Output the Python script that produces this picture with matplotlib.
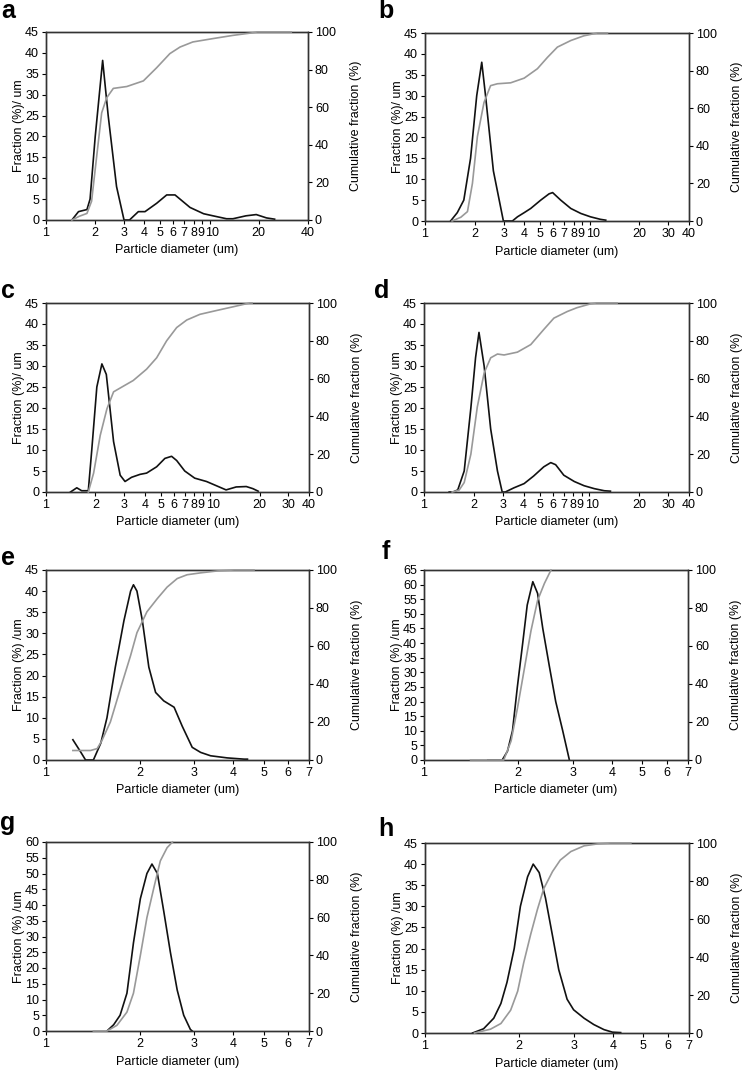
import matplotlib
matplotlib.use("Agg")
import matplotlib.pyplot as plt
import matplotlib.transforms as mtransforms
from matplotlib.ticker import NullLocator

plt.rcParams['font.family'] = ['Liberation Sans', 'DejaVu Sans']
plt.rcParams['font.size'] = 9

# ---------------- data ----------------
# a
a_x = [1.44, 1.58, 1.78, 1.86, 2.0, 2.22, 2.4, 2.7, 3.0, 3.24, 3.67, 4.03, 4.75, 5.47, 6.15, 7.6, 9.2, 10.5, 12.7, 13.9, 16.7, 19.3, 22.3, 25.0]
a_frac = [0, 2, 2.5, 5, 20, 38.2, 25, 8, 0, 0, 2, 2, 4, 6, 6, 3, 1.5, 1, 0.3, 0.3, 1, 1.3, 0.5, 0.2]
a_cx = [1.44, 1.6, 1.78, 1.9, 2.03, 2.19, 2.35, 2.58, 3.12, 3.94, 4.75, 5.72, 6.6, 7.9, 10.5, 13.9, 18.4, 19.5, 31.6]
a_cum = [0, 2, 3.5, 10, 32, 57, 65, 70, 71, 74, 81, 88.5, 92, 94.7, 96.5, 98.2, 99.6, 100, 100]

# b
b_x = [1.43, 1.57, 1.72, 1.89, 2.06, 2.21, 2.33, 2.6, 2.99, 3.39, 3.64, 4.0, 4.38, 5.04, 5.66, 5.95, 6.66, 7.67, 8.83, 10.1, 11.6, 12.5]
b_frac = [0, 2, 5, 15, 30, 38, 30, 12, 0, 0, 1, 2, 3, 5, 6.5, 6.8, 5, 3, 1.8, 1, 0.4, 0.2]
b_cx = [1.46, 1.65, 1.81, 1.94, 2.08, 2.28, 2.5, 2.75, 3.31, 4.0, 4.81, 5.53, 6.36, 7.67, 9.2, 11.1, 12.8]
b_cum = [0, 2, 5, 20, 45, 63, 72, 73, 73.5, 76, 81, 87, 92.5, 96, 98.5, 100, 100]

# c
c_x = [1.41, 1.54, 1.65, 1.81, 1.9, 2.04, 2.19, 2.33, 2.58, 2.83, 3.03, 3.32, 3.74, 4.1, 4.72, 5.3, 5.82, 6.25, 7.0, 8.05, 9.5, 10.9, 12.5, 14.4, 16.6, 18.2, 19.6]
c_frac = [0, 1, 0.3, 0.3, 10, 25, 30.5, 28, 12, 4, 2.5, 3.5, 4.2, 4.5, 6, 8, 8.5, 7.5, 5, 3.3, 2.5, 1.5, 0.5, 1.2, 1.3, 0.8, 0.2]
c_cx = [1.81, 1.95, 2.14, 2.35, 2.58, 2.96, 3.4, 4.1, 4.72, 5.43, 6.25, 7.2, 8.66, 10.9, 13.8, 17.4, 18.0]
c_cum = [0, 10, 30, 44, 53, 56, 59, 65, 71, 80, 87, 91, 94, 96, 98, 100, 100]

# d
d_x = [1.42, 1.5, 1.6, 1.75, 1.92, 2.05, 2.15, 2.31, 2.53, 2.78, 2.97, 3.1, 3.5, 4.03, 4.6, 5.3, 5.84, 6.25, 7.0, 8.1, 9.28, 10.7, 12.3, 13.4]
d_frac = [0, 0, 0.5, 5, 20, 32, 38, 30, 15, 5, 0, 0, 1, 2, 3.8, 6, 7, 6.5, 4, 2.5, 1.5, 0.8, 0.3, 0.2]
d_cx = [1.48, 1.63, 1.75, 1.92, 2.1, 2.31, 2.53, 2.78, 3.05, 3.67, 4.42, 5.3, 6.1, 7.35, 8.4, 10.1, 11.0, 14.7]
d_cum = [0, 1, 5, 20, 45, 63, 71, 73, 72.5, 74, 78, 86, 92, 95.5, 97.5, 99.5, 100, 100]

# e
e_x = [1.22, 1.29, 1.34, 1.42, 1.5, 1.57, 1.67, 1.78, 1.87, 1.91, 1.96, 2.04, 2.14, 2.25, 2.39, 2.58, 2.74, 2.95, 3.14, 3.38, 3.82, 4.33, 4.44]
e_frac = [4.8, 2, 0, 0, 4, 10, 22, 33, 40, 41.5, 40, 33, 22, 16, 14, 12.5, 8, 3, 1.8, 1, 0.5, 0.2, 0.2]
e_cx = [1.22, 1.39, 1.46, 1.51, 1.61, 1.73, 1.87, 1.96, 2.11, 2.28, 2.45, 2.64, 2.84, 3.14, 3.55, 4.02, 4.66]
e_cum = [5, 5, 6, 10, 20, 37, 55, 67, 78, 85, 91, 95.5, 97.5, 98.5, 99.5, 100, 100]

# f
f_x = [1.6, 1.78, 1.85, 1.92, 1.99, 2.07, 2.14, 2.23, 2.31, 2.4, 2.52, 2.64, 2.78, 2.92]
f_frac = [0, 0, 3, 10, 25, 40, 53, 61, 57, 45, 32, 20, 10, 0]
f_cx = [1.41, 1.8, 1.9, 1.99, 2.09, 2.2, 2.31, 2.43, 2.55]
f_cum = [0, 0, 10, 27, 47, 68, 84, 93, 100]

# g
g_x = [1.57, 1.65, 1.73, 1.82, 1.91, 2.01, 2.11, 2.19, 2.28, 2.39, 2.51, 2.64, 2.77, 2.91, 2.95]
g_frac = [0, 2, 5, 12, 28, 42, 50, 53, 50, 38, 25, 13, 5, 0.5, 0]
g_cx = [1.42, 1.57, 1.69, 1.82, 1.91, 2.01, 2.11, 2.23, 2.33, 2.45, 2.55]
g_cum = [0, 0, 3, 10, 20, 40, 60, 77, 90, 97, 100]

# h
h_x = [1.42, 1.54, 1.66, 1.75, 1.83, 1.93, 2.02, 2.13, 2.22, 2.32, 2.43, 2.56, 2.68, 2.85, 2.99, 3.23, 3.47, 3.74, 3.98, 4.23]
h_frac = [0, 1, 3.5, 7, 12, 20, 30, 37, 40, 38, 32, 23, 15, 8, 5.5, 3.5, 2, 0.8, 0.2, 0.1]
h_cx = [1.44, 1.62, 1.75, 1.88, 1.98, 2.07, 2.18, 2.29, 2.4, 2.56, 2.71, 2.93, 3.23, 3.56, 3.92, 4.56]
h_cum = [0, 2, 5, 12, 22, 37, 52, 65, 76, 85, 91, 95.5, 98.5, 99.5, 100, 100]

wide_ticks = [1, 2, 3, 4, 5, 6, 7, 8, 9, 10, 20, 30, 40]
wide_labels = ["1", "2", "3", "4", "5", "6", "7", "8", "9", "10", "20", "30", "40"]
wide_ticks_a = [1, 2, 3, 4, 5, 6, 7, 8, 9, 10, 20, 40]
wide_labels_a = ["1", "2", "3", "4", "5", "6", "7", "8", "9", "10", "20", "40"]
narrow_ticks = [1, 2, 3, 4, 5, 6, 7]
narrow_labels = ["1", "2", "3", "4", "5", "6", "7"]

# ---------------- figure ----------------
W, H = 742, 1078
fig = plt.figure(figsize=(W / 100, H / 100), dpi=100)


def box(l, r, t, b):
    return [l / W, 1 - b / H, (r - l) / W, (b - t) / H]


def panel(rect, letter, lpos, x, frac, cx, cum, xticks, xlabels, xmax, ymax, ylab):
    ax = fig.add_axes(rect)
    ax.set_xscale("log")
    ax.plot(x, frac, color="#111111", lw=1.2)
    ax.set_xlim(1, xmax)
    ax.set_ylim(0, ymax)
    ax.set_xticks(xticks)
    ax.set_xticklabels(xlabels)
    ax.xaxis.set_minor_locator(NullLocator())
    ax.set_yticks(range(0, ymax + 1, 5))
    ax.set_xlabel("Particle diameter (um)", labelpad=4)
    ax.set_ylabel(ylab, labelpad=0)
    ax.tick_params(length=3, width=0.8, pad=2)
    # the crowded "9" and "10" labels are nudged apart a little
    for lab, t in zip(ax.get_xticklabels(), xticks):
        dx = {9: -1.2, 10: 2.0}.get(t, 0)
        if dx:
            lab.set_transform(lab.get_transform() +
                              mtransforms.ScaledTranslation(dx / 72, 0, fig.dpi_scale_trans))

    ax2 = ax.twinx()
    ax2.plot(cx, cum, color="#999999", lw=1.2, zorder=3, clip_on=False)
    ax2.set_ylim(0, 100)
    ax2.set_yticks(range(0, 101, 20))
    ax2.set_ylabel("Cumulative fraction (%)", labelpad=10)
    ax2.tick_params(length=3, width=0.8, pad=2)
    for a in (ax, ax2):
        for s in a.spines.values():
            s.set_color("#333333")
            s.set_linewidth(1.0)

    fig.text(lpos[0] / W, 1 - lpos[1] / H, letter,
             fontsize=18, fontweight="bold", ha="center", va="center")
    return ax


lab1 = "Fraction (%)/ um"
lab2 = "Fraction (%) /um"

panel(box(46, 308, 32, 220), "a", (8, 11), a_x, a_frac, a_cx, a_cum, wide_ticks_a, wide_labels_a, 40, 45, lab1)
panel(box(425, 689, 33, 221), "b", (386, 11), b_x, b_frac, b_cx, b_cum, wide_ticks, wide_labels, 40, 45, lab1)
panel(box(46, 309, 303, 492), "c", (8, 291), c_x, c_frac, c_cx, c_cum, wide_ticks, wide_labels, 40, 45, lab1)
panel(box(424, 689, 303, 492), "d", (382, 291), d_x, d_frac, d_cx, d_cum, wide_ticks, wide_labels, 40, 45, lab1)
panel(box(46, 309, 570, 760), "e", (8, 558), e_x, e_frac, e_cx, e_cum, narrow_ticks, narrow_labels, 7, 45, lab2)
panel(box(424, 688, 570, 760), "f", (386, 552), f_x, f_frac, f_cx, f_cum, narrow_ticks, narrow_labels, 7, 65, lab2)
panel(box(46, 309, 842, 1031), "g", (8, 823), g_x, g_frac, g_cx, g_cum, narrow_ticks, narrow_labels, 7, 60, lab2)
panel(box(425, 689, 843, 1033), "h", (386, 829), h_x, h_frac, h_cx, h_cum, narrow_ticks, narrow_labels, 7, 45, lab2)

fig.savefig("out.png", dpi=100)
